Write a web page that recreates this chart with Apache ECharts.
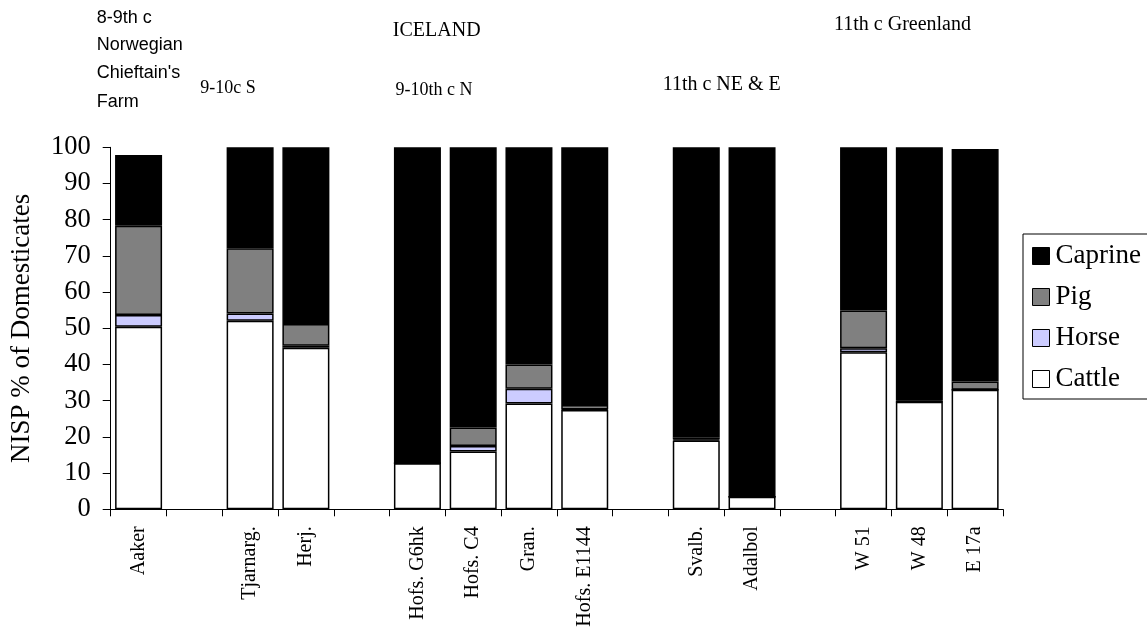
<!DOCTYPE html>
<html>
<head>
<meta charset="utf-8">
<script src="https://cdn.jsdelivr.net/npm/echarts@6/dist/echarts.min.js"></script>
<style>
html,body{margin:0;padding:0;background:#fff;}
#chart{width:1147px;height:637px;}
</style>
</head>
<body>
<div id="chart"></div>
<script>
// Categories (blank slots are group spacers)
const categories = ['Aaker', '', 'Tjarnarg.', 'Herj.', '', 'Hofs. G6hk', 'Hofs. C4', 'Gran.', 'Hofs. E1144', '', 'Svalb.', 'Adalbol', '', 'W 51', 'W 48', 'E 17a'];
// NISP % of domesticates, stacked bottom to top
const cattle  = [50.4, null, 52.1, 44.6, null, 12.7, 16.0, 29.2, 27.4, null, 19.0, 3.5, null, 43.4, 29.7, 33.0];
const horse   = [3.3,  null, 2.0,  0.6,  null, 0,    1.5,  4.1,  0.2,  null, 0.3,  0,   null, 1.1,  0,    0];
const pig     = [24.6, null, 18.0, 6.0,  null, 0,    5.1,  6.7,  1.2,  null, 0.6,  0,   null, 10.4, 0.3,  2.3];
const caprine = [19.6, null, 27.9, 48.8, null, 87.3, 77.4, 60.0, 71.2, null, 80.1, 96.5, null, 45.1, 70.0, 64.2];
const legendOrder = ['Caprine', 'Pig', 'Horse', 'Cattle'];
const yTicks = {min: 0, max: 100, interval: 10};

const serif = '"Liberation Serif", "Times New Roman", serif';
const sans = '"Liberation Sans", Arial, sans-serif';

const chart = echarts.init(document.getElementById('chart'), null, {renderer: 'canvas'});

function barSeries(name, data, color) {
  return {
    name: name,
    type: 'bar',
    stack: 'total',
    data: data,
    barWidth: 47,
    itemStyle: {color: color, borderColor: '#000', borderWidth: 1.5},
    emphasis: {disabled: true},
    animation: false
  };
}

const option = {
  animation: false,
  backgroundColor: '#fff',
  grid: {left: 110.7, right: 144, top: 147.3, bottom: 127.7, containLabel: false},
  legend: {
    data: legendOrder.map(n => ({name: n})),
    orient: 'vertical',
    left: 1023,
    top: 234,
    itemWidth: 17,
    itemHeight: 17,
    itemGap: 14,
    padding: [8.5, 12, 6.5, 9],
    borderColor: '#000',
    borderWidth: 1,
    icon: 'rect',
    itemStyle: {borderColor: '#000', borderWidth: 1},
    textStyle: {fontFamily: serif, fontSize: 27, color: '#000', padding: [0, 0, 0, 1]},
    selectedMode: false
  },
  xAxis: {
    type: 'category',
    data: categories,
    boundaryGap: true,
    axisLine: {lineStyle: {color: '#000', width: 1}},
    axisTick: {show: true, alignWithLabel: false, length: 7, inside: false, interval: 0, lineStyle: {color: '#000'}},
    axisLabel: {interval: 0, rotate: 90, margin: 17, fontFamily: serif, fontSize: 20, color: '#000'},
    splitLine: {show: false}
  },
  yAxis: {
    type: 'value',
    min: yTicks.min,
    max: yTicks.max,
    interval: yTicks.interval,
    name: 'NISP % of Domesticates',
    nameLocation: 'middle',
    nameGap: 75,
    nameRotate: 90,
    nameTextStyle: {fontFamily: serif, fontSize: 27, color: '#000'},
    axisLine: {show: true, lineStyle: {color: '#000', width: 1}},
    axisTick: {show: true, length: 8, inside: false, lineStyle: {color: '#000'}},
    axisLabel: {margin: 20, fontFamily: serif, fontSize: 26.5, color: '#000'},
    splitLine: {show: false}
  },
  series: [
    barSeries('Cattle', cattle, '#FFFFFF'),
    barSeries('Horse', horse, '#CCCCFF'),
    barSeries('Pig', pig, '#808080'),
    barSeries('Caprine', caprine, '#000000')
  ],
  graphic: [
    {type: 'text', left: 96.7, top: 9, style: {text: '8-9th c', font: '18px ' + sans, fill: '#000'}},
    {type: 'text', left: 96.7, top: 36, style: {text: 'Norwegian', font: '18px ' + sans, fill: '#000'}},
    {type: 'text', left: 96.7, top: 64, style: {text: "Chieftain's", font: '18px ' + sans, fill: '#000'}},
    {type: 'text', left: 96.7, top: 93, style: {text: 'Farm', font: '18px ' + sans, fill: '#000'}},
    {type: 'text', x: 436.7, y: 31, style: {text: 'ICELAND', font: '20px ' + serif, fill: '#000', align: 'center', verticalAlign: 'middle'}},
    {type: 'text', x: 228, y: 88, style: {text: '9-10c S', font: '18px ' + serif, fill: '#000', align: 'center', verticalAlign: 'middle'}},
    {type: 'text', x: 434, y: 90, style: {text: '9-10th c N', font: '18px ' + serif, fill: '#000', align: 'center', verticalAlign: 'middle'}},
    {type: 'text', x: 721.7, y: 85, style: {text: '11th c NE & E', font: '20px ' + serif, fill: '#000', align: 'center', verticalAlign: 'middle'}},
    {type: 'text', x: 902.5, y: 25, style: {text: '11th c Greenland', font: '20px ' + serif, fill: '#000', align: 'center', verticalAlign: 'middle'}}
  ]
};
chart.setOption(option);
</script>
</body>
</html>
